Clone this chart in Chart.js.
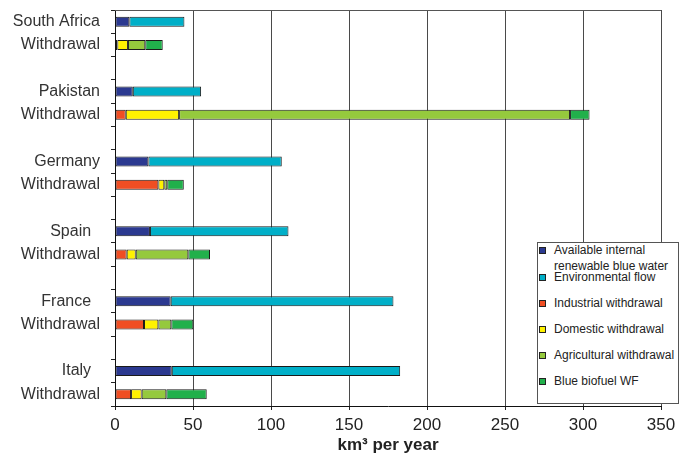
<!DOCTYPE html>
<html>
<head>
<meta charset="utf-8">
<script src="https://cdn.jsdelivr.net/npm/chart.js@4/dist/chart.umd.min.js"></script>
<style>
  html, body { margin: 0; padding: 0; background: #fff; }
  #wrap { position: relative; width: 686px; height: 476px; }
  #legend { position: absolute; left: 537px; top: 242px; width: 140px; height: 160px;
            border: 1px solid #555; background: #fff; font-family: 'Liberation Sans', Arial, sans-serif;
            font-size: 12px; color: #222; }
  .li { position: absolute; left: 16px; line-height: 14px; white-space: nowrap; }
  .mk { position: absolute; left: 1px; width: 5px; height: 5px; border: 1px solid #222; }
</style>
</head>
<body>
<div id="wrap">
  <canvas id="c" width="686" height="476"></canvas>
  <div id="legend"></div>
</div>
<script>
// ---- data ----
const categories = ['South Africa', 'Withdrawal', '', 'Pakistan', 'Withdrawal', '',
                    'Germany', 'Withdrawal', '', 'Spain  ', 'Withdrawal', '',
                    'France  ', 'Withdrawal', '', 'Italy  ', 'Withdrawal'];
// country rows (South Africa, Pakistan, Germany, Spain, France, Italy)
const blueWater   = [9.2, 11.4, 21.4, 22.4, 35.7, 36.4];
const envFlow     = [35.3, 43.8, 85.5, 88.8, 142.8, 146.4];
// withdrawal rows
const industrial  = [1.5, 6.9, 27.8, 7.5, 18.6, 10.3];
const domestic    = [6.8, 34.2, 3.8, 5.8, 9.2, 6.8];
const agricultural= [11.1, 250.6, 1.9, 33.7, 8.3, 15.8];
const biofuel     = [11.2, 12.5, 10.6, 13.9, 14.1, 25.9];
const xTicks = [0, 50, 100, 150, 200, 250, 300, 350];

const seriesNames = ['Available internal renewable blue water', 'Environmental flow',
  'Industrial withdrawal', 'Domestic withdrawal', 'Agricultural withdrawal', 'Blue biofuel WF'];
const colors = ['#2b3990', '#00afc8', '#f04e23', '#fff200', '#95c93d', '#21b04b'];

// place country values on country rows (index 3k), withdrawal values on rows 3k+1
function onRows(vals, offset) {
  const out = categories.map(() => null);
  vals.forEach((v, k) => { out[3 * k + offset] = v; });
  return out;
}
const seriesValues = [
  onRows(blueWater, 0), onRows(envFlow, 0),
  onRows(industrial, 1), onRows(domestic, 1), onRows(agricultural, 1), onRows(biofuel, 1)
];

const FONT = "'Liberation Sans', Arial, sans-serif";
Chart.defaults.font.family = FONT;

const frame = {
  id: 'frame',
  afterDraw(chart) {
    const a = chart.chartArea, ctx = chart.ctx;
    ctx.save();
    ctx.strokeStyle = '#555';
    ctx.lineWidth = 1;
    ctx.beginPath();
    ctx.moveTo(a.left, a.top + 0.5);
    ctx.lineTo(a.right, a.top + 0.5);
    ctx.stroke();
    ctx.restore();
  }
};

const chart = new Chart(document.getElementById('c'), {
  type: 'bar',
  data: {
    labels: categories,
    datasets: seriesNames.map((n, i) => ({
      label: n,
      data: seriesValues[i],
      backgroundColor: colors[i],
      borderColor: '#1a1a1a',
      borderWidth: 1,
      borderSkipped: false,
      barPercentage: 0.43,
      categoryPercentage: 1.0
    }))
  },
  options: {
    indexAxis: 'y',
    responsive: false,
    animation: false,
    layout: { padding: { top: 10, right: 25, bottom: 0, left: 0 } },
    plugins: { legend: { display: false }, tooltip: { enabled: false } },
    scales: {
      x: {
        stacked: true, min: 0, max: 350,
        afterBuildTicks: s => { s.ticks = xTicks.map(v => ({ value: v })); },
        ticks: { font: { size: 17 }, color: '#222', padding: 5 },
        grid: { color: '#4a4a4a', lineWidth: 1, tickLength: 4, tickColor: '#222' },
        border: { color: '#111', width: 1 },
        title: { display: true, text: 'km³ per year', color: '#222',
                 font: { size: 17, weight: 'bold' }, padding: { top: 0, bottom: 20 } },
        afterFit: s => { s.height = 70; s.paddingLeft = 0; s.paddingRight = 0; }
      },
      y: {
        stacked: true,
        ticks: { font: { size: 16 }, color: '#333', padding: 11, autoSkip: false },
        grid: { drawOnChartArea: false, tickLength: 4, color: '#222', offset: true },
        border: { color: '#111', width: 1 },
        afterFit: s => { s.width = 115; s.paddingTop = 0; s.paddingBottom = 0; }
      }
    }
  },
  plugins: [frame]
});

// ---- legend (HTML, built from the datasets) ----
const legendRows = [7, 34, 60, 86, 112, 138];
const lg = document.getElementById('legend');
chart.data.datasets.forEach((ds, i) => {
  const y = legendRows[i];
  const mk = document.createElement('div');
  mk.className = 'mk';
  mk.style.top = (y - 3.5) + 'px';
  mk.style.background = ds.backgroundColor;
  lg.appendChild(mk);
  if (i === 0) {
    const parts = ['Available internal', 'renewable blue water'];
    parts.forEach((p, j) => {
      const t = document.createElement('div');
      t.className = 'li';
      t.style.top = (y - 7 + j * 16) + 'px';
      t.textContent = p;
      lg.appendChild(t);
    });
  } else {
    const t = document.createElement('div');
    t.className = 'li';
    t.style.top = (y - 7) + 'px';
    t.textContent = ds.label;
    lg.appendChild(t);
  }
});
</script>
</body>
</html>
